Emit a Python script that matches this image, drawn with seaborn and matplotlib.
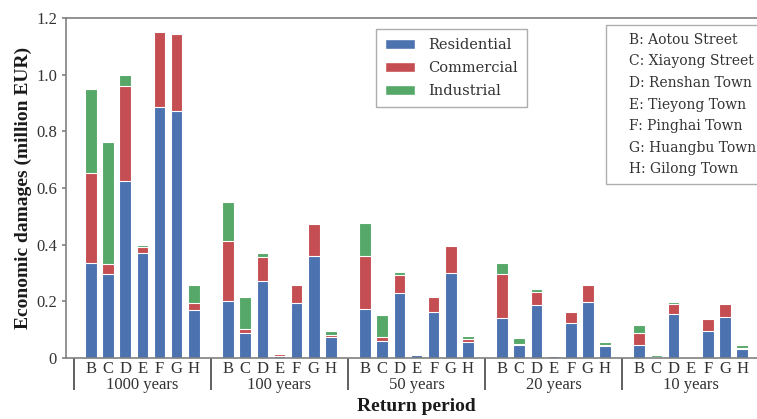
import numpy as np
import pandas as pd
import matplotlib
matplotlib.use("Agg")
import matplotlib.pyplot as plt
import seaborn as sns
from matplotlib.patches import Patch
from matplotlib.lines import Line2D

# values (million EUR)
towns = ["B", "C", "D", "E", "F", "G", "H"]
periods = ["1000 years", "100 years", "50 years", "20 years", "10 years"]
town_names = ["B: Aotou Street", "C: Xiayong Street", "D: Renshan Town",
              "E: Tieyong Town", "F: Pinghai Town", "G: Huangbu Town",
              "H: Gilong Town"]
residential = [0.337, 0.295, 0.625, 0.372, 0.886, 0.873, 0.171,
               0.202, 0.088, 0.272, 0.007, 0.193, 0.360, 0.074,
               0.174, 0.061, 0.229, 0.009, 0.161, 0.299, 0.056,
               0.142, 0.045, 0.188, 0.006, 0.124, 0.198, 0.042,
               0.045, 0.003, 0.155, 0.002, 0.096, 0.146, 0.031]
commercial = [0.315, 0.037, 0.334, 0.019, 0.266, 0.269, 0.023,
              0.211, 0.016, 0.086, 0.006, 0.066, 0.112, 0.008,
              0.186, 0.014, 0.065, 0.001, 0.054, 0.096, 0.011,
              0.156, 0.005, 0.046, 0.001, 0.040, 0.061, 0.005,
              0.045, 0.002, 0.035, 0.000, 0.040, 0.044, 0.005]
industrial = [0.298, 0.430, 0.039, 0.007, 0.000, 0.000, 0.063,
              0.137, 0.112, 0.012, 0.002, 0.000, 0.000, 0.014,
              0.118, 0.078, 0.008, 0.000, 0.000, 0.000, 0.012,
              0.038, 0.019, 0.008, 0.000, 0.000, 0.000, 0.008,
              0.026, 0.007, 0.006, 0.000, 0.000, 0.000, 0.009]

rows = []
for g, period in enumerate(periods):
    for t, town in enumerate(towns):
        i = g * len(towns) + t
        rows.append({"pos": g * 8 + t, "town": town, "period": period,
                     "res": residential[i],
                     "res_com": residential[i] + commercial[i],
                     "total": residential[i] + commercial[i] + industrial[i]})
df = pd.DataFrame(rows)

sns.set_theme(style="ticks", palette="deep")
plt.rcParams["font.family"] = ["Liberation Serif", "DejaVu Serif"]
deep = sns.color_palette("deep")
blue, green, red = deep[0], deep[2], deep[3]

fig = plt.figure(figsize=(7.57, 4.19), dpi=100)
ax = fig.add_axes([66 / 757, 61 / 419, 700 / 757, 340 / 419])

# stacked bars drawn as overlapping cumulative layers
for col, c in [("total", green), ("res_com", red), ("res", blue)]:
    sns.barplot(data=df, x="pos", y=col, native_scale=True, color=c,
                saturation=1, width=0.68, errorbar=None, edgecolor="white",
                linewidth=0.8, ax=ax)

ax.set_xlim(-1.46, 39.4)
ax.set_ylim(0, 1.2)
yt = np.arange(0, 1.21, 0.2)
ax.set_yticks(yt, ["0"] + [f"{v:.1f}" for v in yt[1:]])
ax.set_xticks(df["pos"], df["town"])
ax.tick_params(axis="x", length=0, pad=2.5, labelsize=12, labelcolor="#333333")
ax.tick_params(axis="y", length=3, width=1.2, color="#808080",
               labelsize=12, labelcolor="#333333")
for s in ax.spines.values():
    s.set_color("#808080")
    s.set_linewidth(1.2)
ax.set_ylabel("Economic damages (million EUR)", fontsize=14,
              fontweight="bold", labelpad=3, color="#1a1a1a")
ax.set_xlabel("")

# group separators and return period labels
sec = ax.secondary_xaxis("bottom")
sec.set_xticks([g * 8 - 1 for g in range(6)], [""] * 6)
sec.set_xticks([g * 8 + 3 for g in range(5)], periods, minor=True)
sec.tick_params(which="major", length=23, width=1.2, color="#444444")
sec.tick_params(which="minor", length=0, pad=14, labelsize=12,
                labelcolor="#333333")
sec.spines["bottom"].set_visible(False)
sec.set_xlabel("Return period", fontsize=14, fontweight="bold",
               labelpad=2, color="#1a1a1a")

handles = [Patch(facecolor=c, edgecolor="white", label=l)
           for c, l in zip([blue, red, green],
                           ["Residential", "Commercial", "Industrial"])]
leg = ax.legend(handles=handles, loc="upper left",
                bbox_to_anchor=(376 / 757, 1 - 29 / 419),
                bbox_transform=fig.transFigure, borderaxespad=0,
                fancybox=False, edgecolor="#999999", borderpad=0.6,
                handlelength=2.1, handletextpad=0.9, labelspacing=0.62,
                prop={"family": "DejaVu Serif", "size": 10.5},
                labelcolor="#333333")
leg.get_frame().set_linewidth(1.0)
ax.add_artist(leg)

blank = [Line2D([], [], linestyle="none") for _ in town_names]
leg2 = ax.legend(blank, town_names, loc="upper left",
                 bbox_to_anchor=(606 / 757, 1 - 25 / 419),
                 bbox_transform=fig.transFigure, borderaxespad=0,
                 fancybox=False, edgecolor="#999999", handlelength=0.6,
                 handletextpad=0.5, labelspacing=0.55, borderpad=0.55,
                 prop={"family": "DejaVu Serif", "size": 10},
                 labelcolor="#333333")
leg2.get_frame().set_linewidth(1.0)

fig.savefig("out.png", dpi=100)
